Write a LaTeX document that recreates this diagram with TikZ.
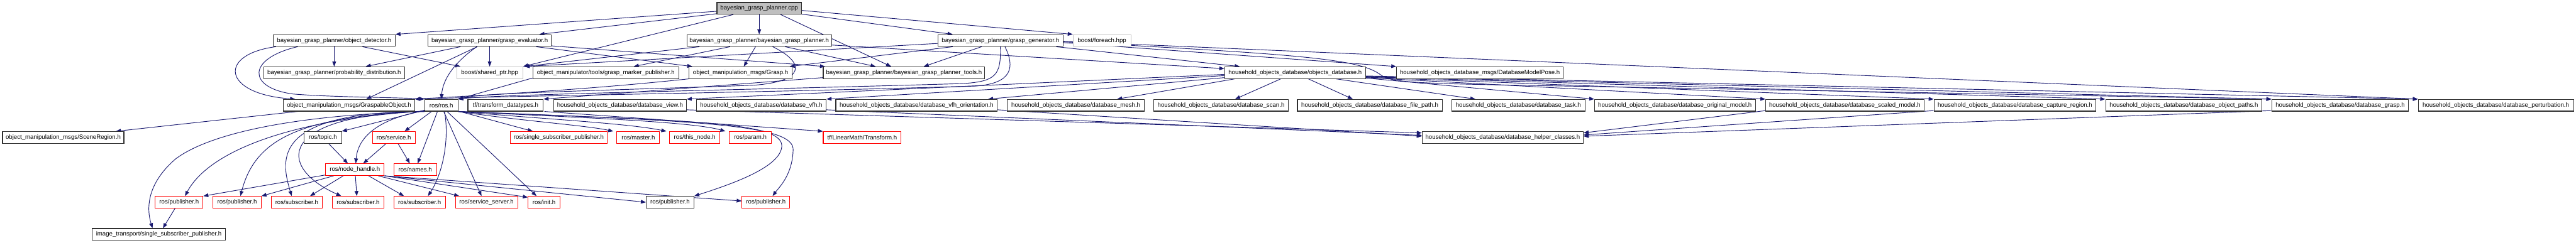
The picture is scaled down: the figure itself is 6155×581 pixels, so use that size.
\documentclass[tikz,border=0pt]{standalone}
\usepackage{fontspec}
\setmainfont{Liberation Sans}
\usetikzlibrary{arrows.meta,calc}
\definecolor{edgeblue}{HTML}{191970}
\definecolor{grayb}{HTML}{BFBFBF}
\definecolor{boxline}{HTML}{303030}
\pgfdeclarelayer{bg}
\pgfsetlayers{bg,main}
\tikzset{
  bx/.style={draw=boxline, line width=0.8pt, fill=white, minimum height=14pt, inner sep=0pt,
             font=\fontsize{7.25}{8}\selectfont, anchor=center},
  rbx/.style={bx, draw=red},
  gbx/.style={bx, draw=grayb},
  rootbx/.style={bx, fill=grayb},
  e/.style={draw=edgeblue, line width=0.7pt, -{Triangle[length=6pt,width=4.5pt]}},
}
\begin{document}
\begin{tikzpicture}[x=0.5pt,y=-0.5pt]
\useasboundingbox (0,0) rectangle (6155,581);
% row 1
\node[rootbx, minimum width=101pt] (R) at (1814,20) {bayesian\_grasp\_planner.cpp};
% row 2
\node[bx, minimum width=145.5pt] (od) at (798.5,97) {bayesian\_grasp\_planner/object\_detector.h};
\node[bx, minimum width=147pt] (ge) at (1170,97) {bayesian\_grasp\_planner/grasp\_evaluator.h};
\node[bx, minimum width=173pt] (bp) at (1814,97) {bayesian\_grasp\_planner/bayesian\_grasp\_planner.h};
\node[bx, minimum width=149.5pt] (gg) at (2390.5,97) {bayesian\_grasp\_planner/grasp\_generator.h};
\node[gbx, minimum width=69pt] (fe) at (2633,97) {boost/foreach.hpp};
% row 3
\node[bx, minimum width=168.5pt] (pd) at (798.5,174) {bayesian\_grasp\_planner/probability\_distribution.h};
\node[gbx, minimum width=79pt] (sp) at (1170,174) {boost/shared\_ptr.hpp};
\node[bx, minimum width=174.5pt] (gm) at (1447.5,174) {object\_manipulator/tools/grasp\_marker\_publisher.h};
\node[bx, minimum width=123.5pt] (gr) at (1769.5,174) {object\_manipulation\_msgs/Grasp.h};
\node[bx, minimum width=193pt] (tools) at (2160,174) {bayesian\_grasp\_planner/bayesian\_grasp\_planner\_tools.h};
\node[bx, minimum width=168.5pt] (odb) at (3094.5,174) {household\_objects\_database/objects\_database.h};
\node[bx, minimum width=199pt] (dmp) at (3536,174) {household\_objects\_database\_msgs/DatabaseModelPose.h};
% row 4
\node[bx, minimum width=157pt] (go) at (834,252) {object\_manipulation\_msgs/GraspableObject.h};
\node[bx, minimum width=39.5pt] (ros) at (1054.5,252) {ros/ros.h};
\node[bx, minimum width=90pt] (tfd) at (1208,252) {tf/transform\_datatypes.h};
\node[bx, minimum width=158.5pt] (dv) at (1481.5,252) {household\_objects\_database/database\_view.h};
\node[bx, minimum width=155pt] (vfh) at (1819,252) {household\_objects\_database/database\_vfh.h};
\node[bx, minimum width=193pt] (vfho) at (2190,252) {household\_objects\_database/database\_vfh\_orientation.h};
\node[bx, minimum width=163.5pt] (mesh) at (2570.5,252) {household\_objects\_database/database\_mesh.h};
\node[bx, minimum width=160.5pt] (scan) at (2917.5,252) {household\_objects\_database/database\_scan.h};
\node[bx, minimum width=173pt] (fp) at (3273,252) {household\_objects\_database/database\_file\_path.h};
\node[bx, minimum width=159pt] (task) at (3628,252) {household\_objects\_database/database\_task.h};
\node[bx, minimum width=192pt] (om) at (4002,252) {household\_objects\_database/database\_original\_model.h};
\node[bx, minimum width=189pt] (sm) at (4408,252) {household\_objects\_database/database\_scaled\_model.h};
\node[bx, minimum width=193.5pt] (cr) at (4814.5,252) {household\_objects\_database/database\_capture\_region.h};
\node[bx, minimum width=187pt] (op) at (5218,252) {household\_objects\_database/database\_object\_paths.h};
\node[bx, minimum width=163.5pt] (dg) at (5591.5,252) {household\_objects\_database/database\_grasp.h};
\node[bx, minimum width=185.5pt] (pert) at (5963.5,252) {household\_objects\_database/database\_perturbation.h};
% row 5
\node[bx, minimum width=145pt] (sr) at (151,329) {object\_manipulation\_msgs/SceneRegion.h};
\node[bx, minimum width=44.5pt] (topic) at (771.5,329) {ros/topic.h};
\node[rbx, minimum width=51pt] (svc) at (941,329) {ros/service.h};
\node[rbx, minimum width=116pt] (ssp) at (1335,329) {ros/single\_subscriber\_publisher.h};
\node[rbx, minimum width=51pt] (master) at (1525,329) {ros/master.h};
\node[rbx, minimum width=60pt] (thisnode) at (1660,329) {ros/this\_node.h};
\node[rbx, minimum width=50pt] (param) at (1793,329) {ros/param.h};
\node[rbx, minimum width=93pt] (lmt) at (2060,329) {tf/LinearMath/Transform.h};
\node[bx, minimum width=192.5pt] (help) at (3590.5,329) {household\_objects\_database/database\_helper\_classes.h};
% row 6
\node[rbx, minimum width=70pt] (nh) at (848,406) {ros/node\_handle.h};
\node[rbx, minimum width=51pt] (names) at (992,406) {ros/names.h};
% row 7
\node[rbx, minimum width=57pt] (pub1) at (428,484) {ros/publisher.h};
\node[rbx, minimum width=57.5pt] (pub2) at (566.5,484) {ros/publisher.h};
\node[rbx, minimum width=61pt] (sub1) at (709,484) {ros/subscriber.h};
\node[rbx, minimum width=61.5pt] (sub2) at (855.5,484) {ros/subscriber.h};
\node[rbx, minimum width=61.5pt] (sub3) at (1002.5,484) {ros/subscriber.h};
\node[rbx, minimum width=74.5pt] (ssrv) at (1162.5,484) {ros/service\_server.h};
\node[rbx, minimum width=38pt] (init) at (1300,484) {ros/init.h};
\node[bx, minimum width=57pt] (pubb) at (1601,484) {ros/publisher.h};
\node[rbx, minimum width=57pt] (pubr) at (1830,484) {ros/publisher.h};
% row 8
\node[bx, minimum width=159.5pt] (it) at (379.5,561) {image\_transport/single\_subscriber\_publisher.h};

\begin{pgfonlayer}{bg}
% root
\draw[e] ($(R.west)+(0,7)$) -- (od.north east);
\draw[e] ($(R.south west)+(0,-2)$) -- ($(ge.north east)+(-29,0)$);
\draw[e] ($(R.south west)+(40,0)$) -- (sp.north east);
\draw[e] (R) -- (bp);
\draw[e] ($(R.south west)+(153,0)$) -- ($(tools.north west)+(163,0)$);
\draw[e] ($(R.south east)+(0,-1)$) -- ($(gg.north west)+(36,0)$);
\draw[e] ($(R.east)+(0,5)$) -- (fe.north west);
% object_detector
\draw[e] ($(od.south west)+(7,0)$) .. controls (520,130) and (530,225) .. ($(go.north west)+(29,0)$);
\draw[e] ($(od.south west)+(59,0)$) .. controls (590,140) and (590,210) .. (700,225) .. controls (800,233) and (950,233) .. (ros.north west);
\draw[e] (od) -- (pd);
\draw[e] ($(od.south west)+(214,0)$) -- ($(sp.north west)+(10,0)$);
% grasp_evaluator
\draw[e] ($(ge.south west)+(78,0)$) -- ($(pd.north east)+(-94,0)$);
\draw[e] ($(ge.south west)+(118,0)$) -- ($(go.north west)+(199,0)$);
\draw[e] ($(ge.south west)+(117,0)$) .. controls (1085,150) and (1058,190) .. (ros.north);
\draw[e] (ge) -- (sp);
\draw[e] ($(ge.south west)+(259,0)$) -- ($(gr.north west)+(9,0)$);
\draw[e] ($(ge.south east)+(0,-2)$) -- ($(tools.north west)+(5,0)$);
% bayesian_grasp_planner.h
\draw[e] ($(bp.south west)+(31,0)$) -- ($(sp.north east)+(2,0)$);
\draw[e] ($(bp.south west)+(104,0)$) -- ($(gm.north west)+(242,0)$);
\draw[e] ($(bp.south west)+(165,0)$) -- ($(gr.north west)+(132,0)$);
\draw[e] ($(bp.south west)+(206,0)$) .. controls (1925,150) and (1925,195) .. (1800,204) .. controls (1500,215) and (1150,222) .. (ros.north east);
\draw[e] ($(bp.south west)+(236,0)$) -- ($(tools.north west)+(126,0)$);
\draw[e] ($(bp.south east)+(0,-4)$) -- ($(odb.north west)+(0,5)$);
% grasp_generator
\draw[e] ($(gg.west)+(0,7)$) -- ($(sp.north east)+(4,0)$);
\draw[e] ($(gg.south west)+(36,0)$) -- ($(gr.north east)+(-7,0)$);
\draw[e] ($(gg.south west)+(105,0)$) -- ($(tools.north west)+(241,0)$);
\draw[e] ($(gg.south west)+(150,0)$) .. controls (2392,180) and (2380,195) .. (2300,200) .. controls (1800,215) and (1200,225) .. (ros.north east);
\draw[e] ($(gg.south west)+(161,0)$) .. controls (2425,160) and (2420,200) .. (2330,206) .. controls (1800,222) and (1200,230) .. (go.north east);
\draw[e] ($(gg.south east)+(-17,0)$) -- ($(odb.north west)+(37,0)$);
\draw[e] ($(gg.east)+(0,5)$) -- (dmp.north west);
\draw[e] ($(gg.east)+(0,3)$) .. controls (3100,130) and (3250,140) .. (3300,180) .. controls (3330,200) and (3400,200) .. (3800,207) -- (dg.north west);
\draw[e] ($(gg.east)+(0,2)$) -- (pert.north west);
% tools, grasp marker, grasp
\draw[e] ($(tools.south west)+(0,-3)$) -- (tfd.north east);
\draw[e] ($(gm.south west)+(0,-2)$) -- (ros.north east);
\draw[e] (gr.south west) .. controls (1400,215) and (1150,228) .. (go.north east);
% objects_database
\draw[e] ($(odb.west)+(0,4)$) -- (dv.north east);
\draw[e] ($(odb.west)+(0,7)$) -- (vfh.north east);
\draw[e] ($(odb.south west)+(0,-3)$) -- ($(vfho.north east)+(-23,0)$);
\draw[e] ($(odb.south west)+(25,0)$) -- ($(mesh.north west)+(263,0)$);
\draw[e] ($(odb.south west)+(135,0)$) -- ($(scan.north west)+(195,0)$);
\draw[e] ($(odb.south west)+(201,0)$) -- ($(fp.north west)+(133,0)$);
\draw[e] ($(odb.south west)+(267,0)$) -- ($(task.north west)+(57,0)$);
\draw[e] ($(odb.south east)+(0,-2)$) -- (om.north west);
\draw[e] ($(odb.south east)+(0,-3)$) -- (sm.north west);
\draw[e] ($(odb.south east)+(0,-4)$) -- (cr.north west);
\draw[e] ($(odb.south east)+(0,-5)$) -- (op.north west);
\draw[e] ($(odb.south east)+(0,-6)$) -- (dg.north west);
\draw[e] ($(odb.south east)+(0,-7)$) -- (pert.north west);
% helper classes
\draw[e] ($(dv.south east)+(0,-4)$) -- ($(help.west)+(0,-11)$);
\draw[e] ($(vfh.south east)+(0,-4)$) -- ($(help.west)+(0,-5)$);
\draw[e] ($(vfho.south east)+(0,-4)$) -- ($(help.west)+(0,-3)$);
\draw[e] ($(sm.south west)+(0,-2)$) -- ($(help.east)+(0,-11)$);
\draw[e] ($(cr.south west)+(0,-2)$) -- ($(help.east)+(0,-6)$);
\draw[e] ($(dg.south west)+(0,-2)$) -- ($(help.east)+(0,-3)$);
% tf
\draw[e] ($(tfd.south east)+(2,0)$) -- (lmt.north west);
% GraspableObject
\draw[e] ($(go.south west)+(35,0)$) -- ($(sr.north east)+(-20,0)$);
% ros.h
\draw[e] ($(ros.south west)+(0,-3)$) -- (topic.north east);
\draw[e] ($(ros.south west)+(0,-2)$) .. controls (900,285) and (855,330) .. ($(nh.north)+(2,0)$);
\draw[e] ($(ros.south west)+(0,-1)$) .. controls (700,285) and (500,360) .. ($(pub1.north)+(14,0)$);
\draw[e] ($(ros.south west)+(0,-1)$) .. controls (720,280) and (610,330) .. ($(pub2.north)+(8,0)$);
\draw[e] (ros.south west) .. controls (650,268) and (670,380) .. ($(sub1.north)+(-12,0)$);
\draw[e] (ros.south west) .. controls (660,275) and (660,400) .. ($(sub2.north)+(-40,0)$);
\draw[e] (ros.south west) .. controls (700,275) and (500,320) .. (420,380) .. controls (350,440) and (350,500) .. ($(it.north)+(-15,0)$);
\draw[e] ($(ros.south west)+(17,0)$) -- ($(svc.north east)+(-26,0)$);
\draw[e] ($(ros.south west)+(31,0)$) -- ($(names.north)+(6,0)$);
\draw[e] ($(ros.south west)+(48,0)$) .. controls (1075,340) and (1055,420) .. ($(sub3.north)+(20,0)$);
\draw[e] ($(ros.south west)+(46,0)$) -- ($(ssrv.north)+(-12,0)$);
\draw[e] ($(ros.south west)+(54,0)$) -- ($(init.north)+(-18,0)$);
\draw[e] ($(ros.south east)+(0,-1)$) -- ($(ssp.north west)+(55,0)$);
\draw[e] (ros.south east) .. controls (1250,290) and (1400,300) .. ($(master.north west)+(-8,0)$);
\draw[e] (ros.south east) .. controls (1300,285) and (1500,295) .. ($(thisnode.north west)+(-7,0)$);
\draw[e] (ros.south east) .. controls (1350,280) and (1650,290) .. ($(param.north west)+(-9,0)$);
\draw[e] (ros.south east) .. controls (1700,290) and (1900,300) .. (1895,360) .. controls (1893,420) and (1860,450) .. ($(pubr.north)+(16,0)$);
\draw[e] (ros.south east) .. controls (1650,290) and (1870,290) .. (1868,350) .. controls (1865,400) and (1750,440) .. (pubb.north east);
% node_handle and others
\draw[e] ($(nh.south west)+(0,-2)$) -- (pub1.north east);
\draw[e] ($(nh.south west)+(20,0)$) -- (pub2.north east);
\draw[e] ($(nh.south west)+(43,0)$) -- ($(sub1.north east)+(-30,0)$);
\draw[e] ($(nh.south west)+(72,0)$) -- ($(sub2.north)+(-3,0)$);
\draw[e] ($(nh.south east)+(-38,0)$) -- ($(sub3.north west)+(25,0)$);
\draw[e] ($(nh.south east)+(-15,0)$) -- ($(ssrv.north west)+(10,0)$);
\draw[e] (nh.south east) -- ($(init.north west)+(0,3)$);
\draw[e] (nh.south east) -- (pubb.west);
\draw[e] (nh.south east) -- ($(pubr.west)+(0,-3)$);
\draw[e] ($(topic.south)+(14,0)$) -- ($(nh.north west)+(54,0)$);
\draw[e] ($(svc.south west)+(33,0)$) -- ($(nh.north east)+(-51,0)$);
\draw[e] ($(svc.south west)+(62,0)$) -- ($(names.north west)+(39,0)$);
\draw[e] ($(pub1.south west)+(48,0)$) -- ($(it.north west)+(170,0)$);
\end{pgfonlayer}
\end{tikzpicture}
\end{document}
